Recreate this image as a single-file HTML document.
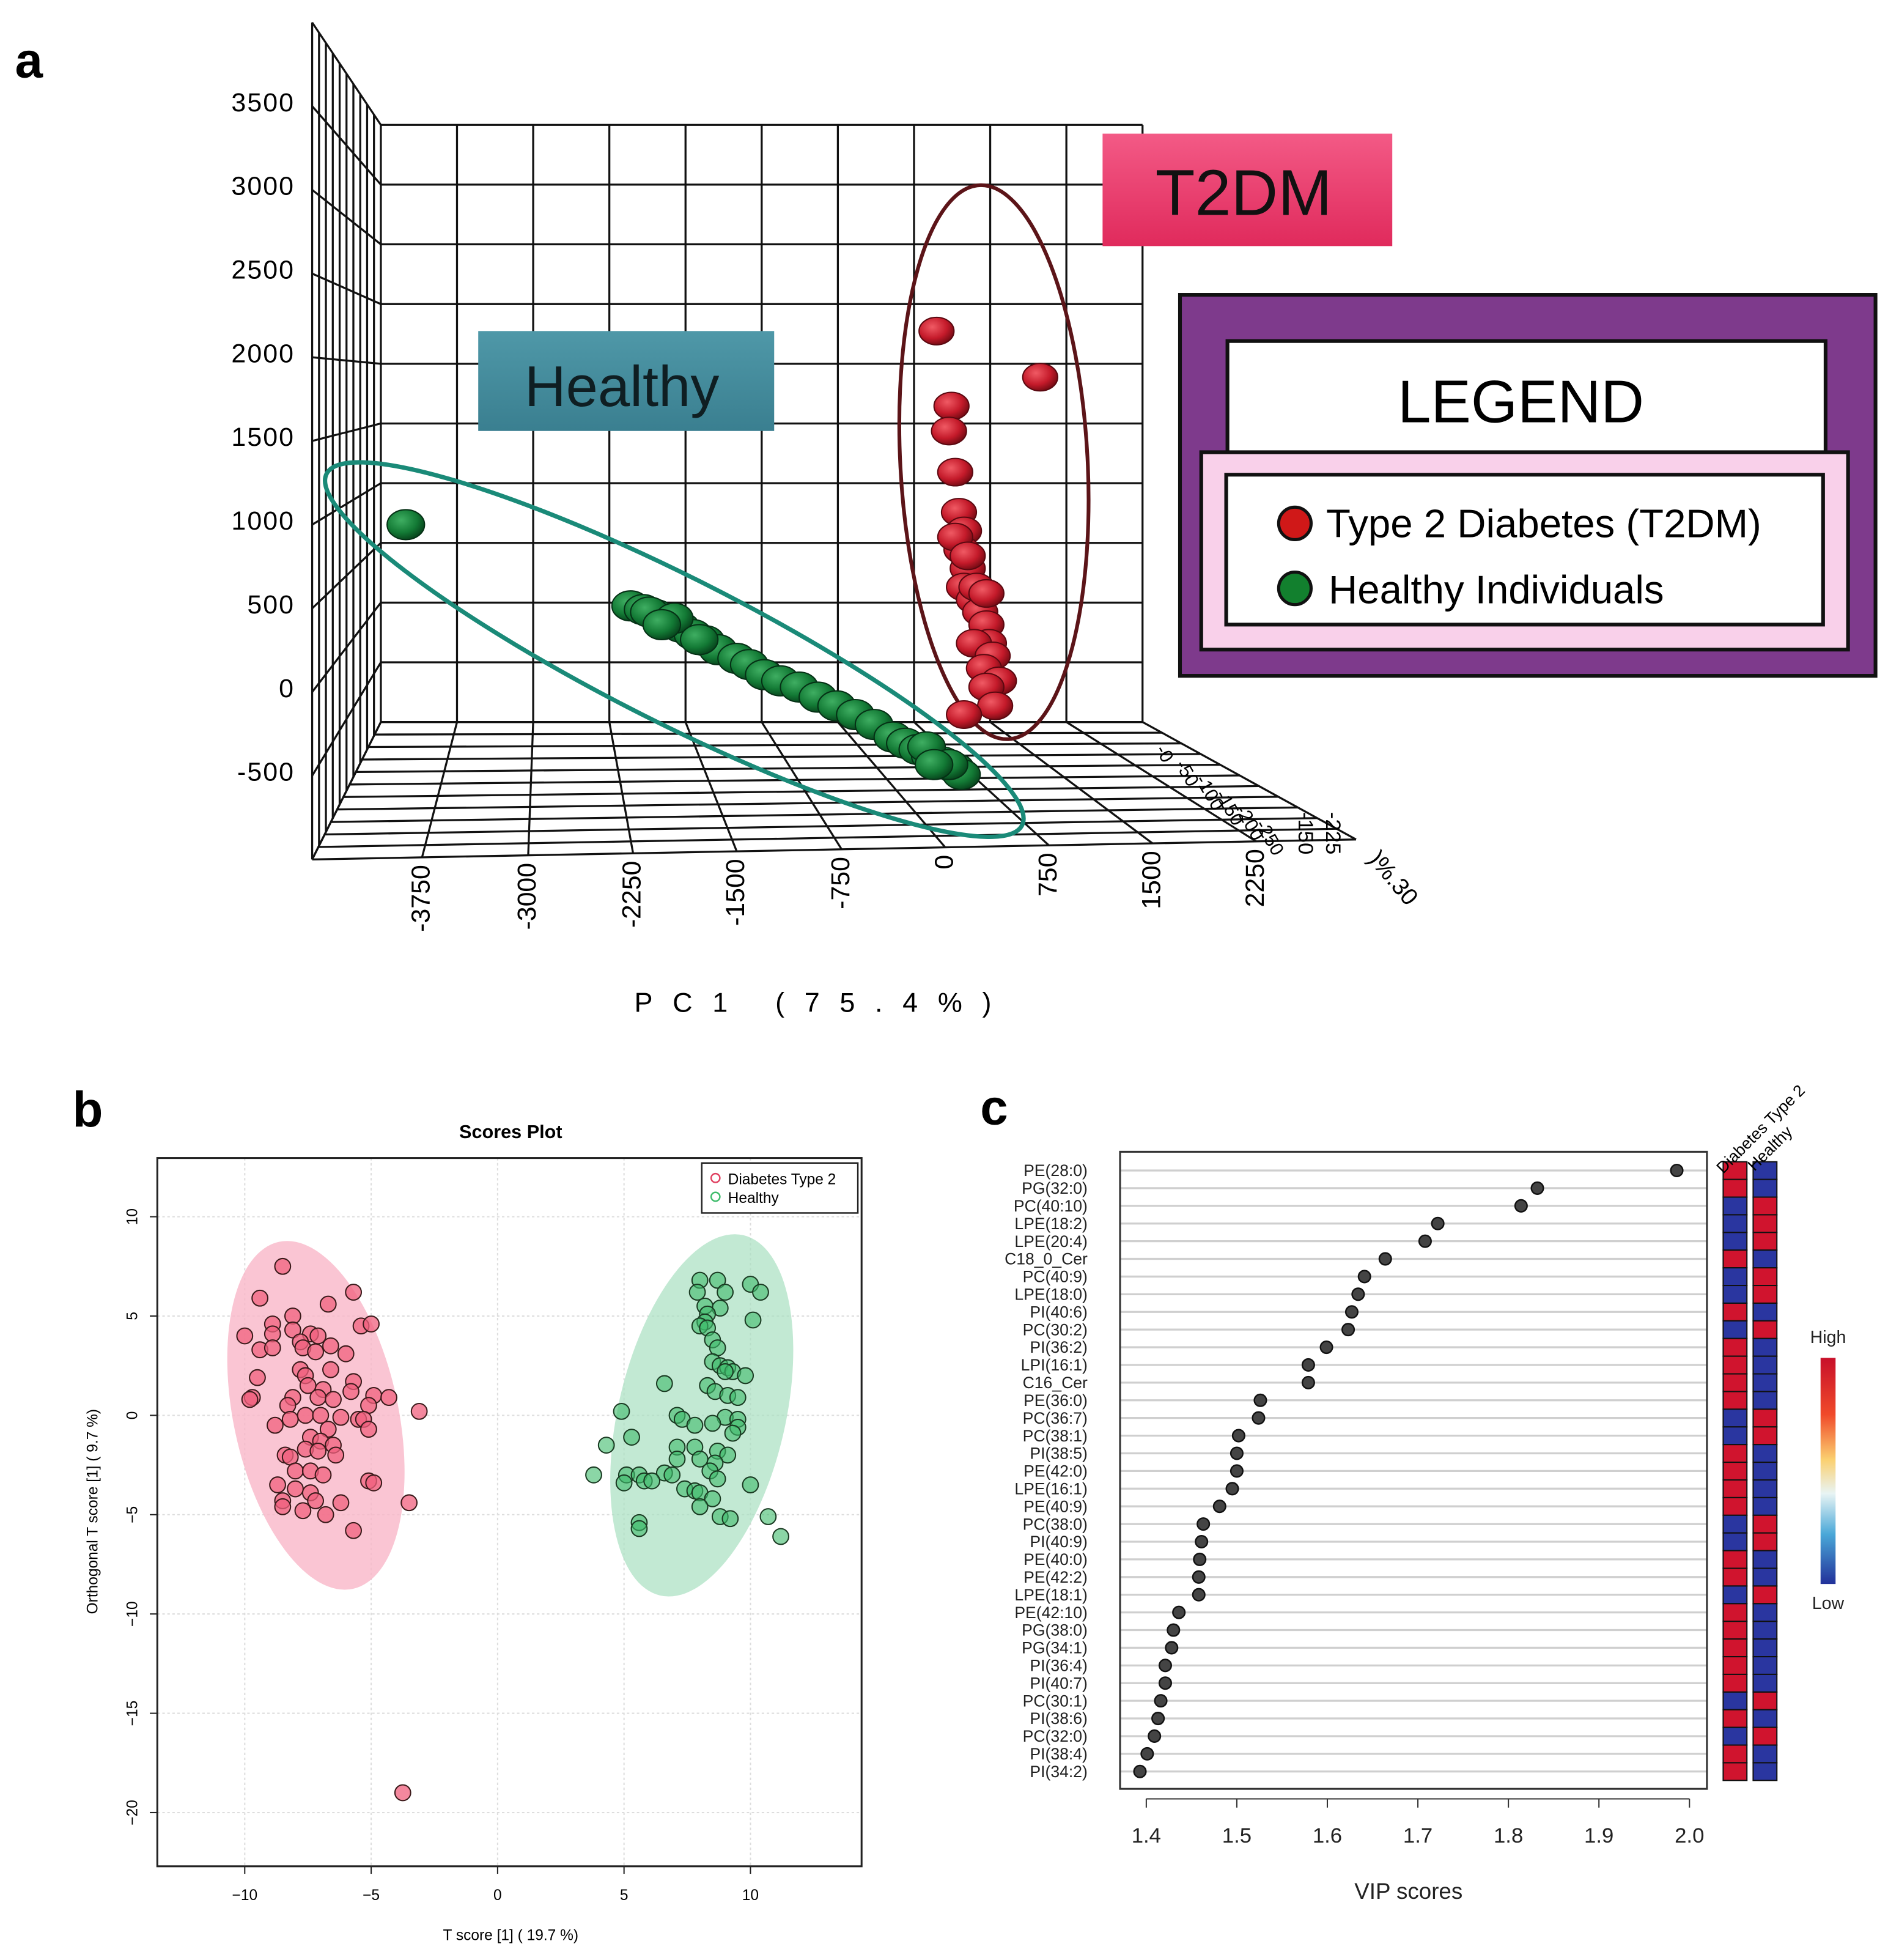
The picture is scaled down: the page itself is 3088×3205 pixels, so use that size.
<!DOCTYPE html>
<html><head><meta charset="utf-8"><style>
html,body{margin:0;padding:0;background:#fff;}
svg{display:block;}
text{font-family:"Liberation Sans",sans-serif;}
</style></head>
<body>
<svg id="fig" xmlns="http://www.w3.org/2000/svg" width="3088" height="3205" viewBox="0 0 1512 1569" preserveAspectRatio="none">
<defs>
<radialGradient id="gG" cx="0.38" cy="0.35" r="0.7"><stop offset="0" stop-color="#3fae62"/><stop offset="0.6" stop-color="#137a35"/><stop offset="1" stop-color="#06401a"/></radialGradient>
<radialGradient id="gR" cx="0.38" cy="0.35" r="0.7"><stop offset="0" stop-color="#f05a64"/><stop offset="0.6" stop-color="#c41a2a"/><stop offset="1" stop-color="#6e0a12"/></radialGradient>
<linearGradient id="tealG" x1="0" y1="0" x2="0" y2="1"><stop offset="0" stop-color="#4f98a8"/><stop offset="1" stop-color="#3a7f90"/></linearGradient>
<linearGradient id="pinkG" x1="0" y1="0" x2="0" y2="1"><stop offset="0" stop-color="#f35a86"/><stop offset="1" stop-color="#e02a5c"/></linearGradient>
<linearGradient id="cbar" x1="0" y1="0" x2="0" y2="1"><stop offset="0" stop-color="#c8102a"/><stop offset="0.25" stop-color="#f04a2a"/><stop offset="0.45" stop-color="#fbd070"/><stop offset="0.6" stop-color="#e8f4f4"/><stop offset="0.78" stop-color="#4aa8d8"/><stop offset="1" stop-color="#22319a"/></linearGradient>
</defs>
<g id="panelA"></g>
<g id="panelB"></g>
<g id="panelC"></g>
</svg>
<script>
// ---------- Panel A data (PC1, PC2 value) ----------
const aYTicks = [3500,3000,2500,2000,1500,1000,500,0,-500];
const aXTicks = ["-3750","-3000","-2250","-1500","-750","0","750","1500","2250"];
const aGreenPC1 = [-3919,-2297,-2207,-2117,-2027,-1937,-1847,-1757,-1667,-1532,-1441,-1333,-1216,-1081,-946,-811,-676,-541,-405,-315,-225,-135,-45,45,90,-2162,-1982,-2072,-1802,-162,0,-108];
const aGreenVal = [968,484,462,432,395,357,313,276,223,171,134,74,37,0,-60,-112,-164,-223,-298,-335,-372,-410,-447,-484,-521,447,410,372,283,-357,-462,-462];
const aRedPC1 = [-90,658,18,0,45,72,108,90,135,108,180,225,270,288,180,315,252,360,270,333,108,45,135,198,270];
const aRedVal = [2122,1847,1675,1526,1281,1042,931,819,707,596,521,447,372,261,261,186,112,37,0,-112,-164,894,782,596,558];
// ---------- Panel B data ----------
const bXTicks = [-10,-5,0,5,10];
const bYTicks = [10,5,0,-5,-10,-15,-20];
const bRedX = [-8.5,-9.4,-5.7,-6.7,-8.9,-8.1,-10,-8.9,-9.4,-8.9,-8.1,-7.4,-7.1,-7.8,-7.7,-6.6,-6.0,-7.2,-5.4,-5.0,-6.6,-7.8,-7.6,-9.5,-5.7,-7.5,-6.9,-5.8,-9.7,-9.8,-8.1,-7.1,-4.9,-4.3,-6.5,-5.1,-3.1,-8.3,-7.6,-7.0,-6.2,-5.5,-5.3,-8.2,-8.8,-5.1,-6.7,-7.4,-7.0,-6.5,-7.6,-7.1,-8.4,-6.4,-8.2,-8.0,-7.4,-6.9,-8.7,-5.1,-4.9,-8.0,-7.4,-7.2,-8.5,-8.5,-6.2,-3.5,-7.7,-6.8,-5.7,-3.75];
const bRedY = [7.5,5.9,6.2,5.6,4.6,5.0,4.0,4.1,3.3,3.4,4.3,4.1,4.0,3.7,3.4,3.5,3.1,3.2,4.5,4.6,2.3,2.3,2.0,1.9,1.7,1.5,1.3,1.2,0.9,0.8,0.9,0.9,1.0,0.9,0.8,0.5,0.2,0.5,0.0,0.0,-0.1,-0.2,-0.2,-0.2,-0.5,-0.7,-0.7,-1.1,-1.3,-1.5,-1.7,-1.8,-2.0,-2.0,-2.1,-2.8,-2.8,-3.0,-3.5,-3.3,-3.4,-3.7,-3.9,-4.3,-4.3,-4.6,-4.4,-4.4,-4.8,-5.0,-5.8,-19];
const bGreenX = [8.0,8.7,10.0,10.4,7.9,9.0,8.2,8.8,8.3,8.2,10.1,8.0,8.3,8.5,8.7,8.5,8.8,9.1,9.3,9.0,9.8,6.6,8.3,8.6,9.1,9.5,4.9,7.1,7.3,9.0,9.5,7.8,8.5,9.5,9.3,5.3,4.3,7.1,7.8,8.7,9.1,7.1,8.0,8.6,8.4,6.6,6.9,3.8,5.1,5.6,5.8,6.1,5.0,8.7,10.0,7.4,7.8,8.0,8.5,8.0,5.6,5.6,8.8,9.2,10.7,11.2];
const bGreenY = [6.8,6.8,6.6,6.2,6.2,6.2,5.5,5.4,5.1,4.7,4.8,4.5,4.4,3.8,3.4,2.7,2.5,2.4,2.2,2.2,2.0,1.6,1.5,1.2,1.0,0.9,0.2,0.0,-0.2,-0.1,-0.2,-0.5,-0.4,-0.6,-0.9,-1.1,-1.5,-1.6,-1.6,-1.8,-2.0,-2.2,-2.2,-2.4,-2.8,-2.9,-3.0,-3.0,-3.0,-3.0,-3.3,-3.3,-3.4,-3.2,-3.5,-3.7,-3.8,-3.9,-4.2,-4.6,-5.4,-5.7,-5.1,-5.2,-5.1,-6.1];
// ---------- Panel C data ----------
const cNames = ["PE(28:0)","PG(32:0)","PC(40:10)","LPE(18:2)","LPE(20:4)","C18_0_Cer","PC(40:9)","LPE(18:0)","PI(40:6)","PC(30:2)","PI(36:2)","LPI(16:1)","C16_Cer","PE(36:0)","PC(36:7)","PC(38:1)","PI(38:5)","PE(42:0)","LPE(16:1)","PE(40:9)","PC(38:0)","PI(40:9)","PE(40:0)","PE(42:2)","LPE(18:1)","PE(42:10)","PG(38:0)","PG(34:1)","PI(36:4)","PI(40:7)","PC(30:1)","PI(38:6)","PC(32:0)","PI(38:4)","PI(34:2)"];
const cVip = [1.986,1.832,1.814,1.722,1.708,1.664,1.641,1.634,1.627,1.623,1.599,1.579,1.579,1.526,1.524,1.502,1.500,1.500,1.495,1.481,1.463,1.461,1.459,1.458,1.458,1.436,1.430,1.428,1.421,1.421,1.416,1.413,1.409,1.401,1.393];
const cDiabHigh = [1,1,0,0,0,1,0,0,1,0,1,1,1,1,0,0,1,1,1,1,0,0,1,1,0,1,1,1,1,1,0,1,0,1,1];
const cXTicks = [1.4,1.5,1.6,1.7,1.8,1.9,2.0];

const NS="http://www.w3.org/2000/svg";
function mk(tag,attrs,parent,txt){const e=document.createElementNS(NS,tag);for(const k in attrs)e.setAttribute(k,attrs[k]);if(txt!==undefined)e.textContent=txt;parent.appendChild(e);return e;}

// ================= PANEL A =================
const A=document.getElementById('panelA');
let t=mk('text',{x:12,y:62,'font-size':40,'font-weight':'bold'},A,'a');


const bwL=305,bwR=915,bwT=100,bwB=578, fL=250,fT=18,fB=688;
const grid=mk('g',{stroke:'#111','stroke-width':1.6,fill:'none'},A);


const bvx=[];for(let i=0;i<=10;i++)bvx.push(bwL+(bwR-bwL)*i/10);
bvx.forEach(x=>mk('line',{x1:x,y1:bwT,x2:x,y2:bwB},grid));
const bhy=[];for(let i=0;i<=10;i++)bhy.push(bwT+(bwB-bwT)*i/10);
bhy.forEach(y=>mk('line',{x1:bwL,y1:y,x2:bwR,y2:y},grid));
mk('line',{x1:fL,y1:fT,x2:fL,y2:fB},grid);
bhy.forEach(y=>{const fy=fT+(y-bwT)/(bwB-bwT)*(fB-fT);mk('line',{x1:fL,y1:fy,x2:bwL,y2:y},grid);});
for(let i=1;i<10;i++){const x=fL+(bwL-fL)*i/10;const yt=fT+(bwT-fT)*i/10,yb=fB+(bwB-fB)*i/10;mk('line',{x1:x,y1:yt,x2:x,y2:yb},grid);}
const frontX=[fL,338,423,507,590,674,757,840,923,1006,1086];
const frontY=x=>688-(x-250)/(1086-250)*16;
for(let i=0;i<=10;i++)mk('line',{x1:bvx[i],y1:bwB,x2:frontX[i],y2:frontY(frontX[i])},grid);
for(let j=0;j<=11;j++){const f=j/11;const xl=bwL+(fL-bwL)*f,yl=bwB+(fB-bwB)*f;const xr=bwR+(1086-bwR)*f,yr=bwB+(672-bwB)*f;mk('line',{x1:xl,y1:yl,x2:xr,y2:yr},grid);}
aYTicks.forEach((v,i)=>{const e=mk('text',{x:236,y:89+i*67,'font-size':21,'text-anchor':'end','letter-spacing':'1'},A,String(v));

});
aXTicks.forEach((v,i)=>{const x=frontX[i+1]+6;const y=frontY(frontX[i+1])+6;const e=mk('text',{x:0,y:0,'font-size':21,'text-anchor':'end',transform:`translate(${x},${y}) rotate(-90)`},A,v);

});
["-150","-225"].forEach((v,i)=>{const e=mk('text',{x:0,y:0,'font-size':17,transform:`translate(${1040+i*22},${650}) rotate(90)`},A,v);

});
t=mk('text',{x:0,y:0,'font-size':19,transform:'translate(1095,688) rotate(50)'},A,')%.30');


for(let i=0;i<6;i++){const e=mk('text',{x:0,y:0,'font-size':15,transform:`translate(${925+i*16},${600+i*12}) rotate(60)`},A,'-'+(i*50));

}
t=mk('text',{x:508,y:810,'font-size':22,'letter-spacing':'16'},A,'PC1 (75.4%)');


t=mk('ellipse',{cx:540,cy:520,rx:312,ry:58,fill:'none',stroke:'#1a8a78','stroke-width':3.5,transform:'rotate(26.8 540 520)'},A);


t=mk('ellipse',{cx:796,cy:370,rx:75,ry:222,fill:'none',stroke:'#5c1418','stroke-width':3,transform:'rotate(-3 796 370)'},A);


const ax=v=>760+v*0.111, ay=v=>550-v*0.1343;
aGreenPC1.forEach((v,i)=>{const c=mk('ellipse',{cx:ax(v),cy:ay(aGreenVal[i]),rx:15,ry:12,fill:'url(#gG)',stroke:'#053015','stroke-width':1},A);

});
aRedPC1.forEach((v,i)=>{const c=mk('ellipse',{cx:ax(v),cy:ay(aRedVal[i]),rx:14,ry:11,fill:'url(#gR)',stroke:'#5a0810','stroke-width':1},A);

});
let g=mk('g',{},A);


mk('rect',{x:383,y:265,width:237,height:80,fill:'url(#tealG)'},g);
mk('text',{x:498,y:325,'font-size':46,'text-anchor':'middle',fill:'#0f1e22'},g,'Healthy');
g=mk('g',{},A);


mk('rect',{x:883,y:107,width:232,height:90,fill:'url(#pinkG)'},g);
mk('text',{x:996,y:172,'font-size':52,'text-anchor':'middle',fill:'#111'},g,'T2DM');
g=mk('g',{},A);


mk('rect',{x:945,y:236,width:557,height:305,fill:'#7e3a8c',stroke:'#111','stroke-width':3},g);
mk('rect',{x:983,y:273,width:479,height:92,fill:'#fff',stroke:'#111','stroke-width':3},g);
mk('text',{x:1218,y:338,'font-size':48,'text-anchor':'middle'},g,'LEGEND');
mk('rect',{x:962,y:362,width:518,height:158,fill:'#f9d0ea',stroke:'#111','stroke-width':3},g);
mk('rect',{x:982,y:380,width:478,height:120,fill:'#fff',stroke:'#111','stroke-width':3},g);
let le=mk('g',{},g);


mk('circle',{cx:1037,cy:419,r:13,fill:'#d01818',stroke:'#111','stroke-width':2.5},le);
mk('text',{x:1062,y:430,'font-size':32},le,'Type 2 Diabetes (T2DM)');
le=mk('g',{},g);


mk('circle',{cx:1037,cy:471,r:13,fill:'#12802e',stroke:'#111','stroke-width':2.5},le);
mk('text',{x:1064,y:483,'font-size':32},le,'Healthy Individuals');

// ================= PANEL B =================
const B=document.getElementById('panelB');
t=mk('text',{x:58,y:902,'font-size':40,'font-weight':'bold'},B,'b');


t=mk('text',{x:409,y:911,'font-size':15,'font-weight':'bold','text-anchor':'middle'},B,'Scores Plot');


const bx=v=>398.5+v*20.25, by=v=>1133-v*15.9;
bXTicks.forEach(v=>{mk('line',{x1:bx(v),y1:927,x2:bx(v),y2:1494,stroke:'#ddd','stroke-dasharray':'2,2'},B);});
bYTicks.forEach(v=>{mk('line',{x1:126,y1:by(v),x2:690,y2:by(v),stroke:'#ddd','stroke-dasharray':'2,2'},B);});
t=mk('ellipse',{cx:253,cy:1133,rx:66,ry:142,fill:'#f9b7c8',opacity:0.8,transform:'rotate(-12 253 1133)'},B);


t=mk('ellipse',{cx:562,cy:1133,rx:67,ry:148,fill:'#a8e0c0',opacity:0.7,transform:'rotate(13 562 1133)'},B);


bRedX.forEach((v,i)=>{const c=mk('circle',{cx:bx(v),cy:by(bRedY[i]),r:6.3,fill:'#f0607e','fill-opacity':0.75,stroke:'#3a1a1a','stroke-width':1},B);

});
bGreenX.forEach((v,i)=>{const c=mk('circle',{cx:bx(v),cy:by(bGreenY[i]),r:6.3,fill:'#3dbb6a','fill-opacity':0.6,stroke:'#1a3a22','stroke-width':1},B);

});
t=mk('rect',{x:126,y:927,width:564,height:567,fill:'none',stroke:'#222','stroke-width':1.5},B);


bXTicks.forEach(v=>{mk('line',{x1:bx(v),y1:1494,x2:bx(v),y2:1500,stroke:'#222'},B);
const e=mk('text',{x:bx(v),y:1521,'font-size':12,'text-anchor':'middle'},B,v<0?'\u2212'+(-v):String(v));

});
bYTicks.forEach(v=>{mk('line',{x1:120,y1:by(v),x2:126,y2:by(v),stroke:'#222'},B);
const e=mk('text',{x:0,y:0,'font-size':12,'text-anchor':'middle',transform:`translate(110,${by(v)}) rotate(-90)`},B,v<0?'\u2212'+(-v):String(v));

});
t=mk('text',{x:409,y:1553,'font-size':12,'text-anchor':'middle'},B,'T score [1] ( 19.7 %)');


t=mk('text',{x:0,y:0,'font-size':12,'text-anchor':'middle',transform:'translate(78,1210) rotate(-90)'},B,'Orthogonal T score [1] ( 9.7 %)');


g=mk('g',{},B);


mk('rect',{x:562,y:931,width:125,height:40,fill:'#fff',stroke:'#222','stroke-width':1.2},g);
mk('circle',{cx:573,cy:943,r:3.5,fill:'none',stroke:'#e04060','stroke-width':1.2},g);
mk('text',{x:583,y:948,'font-size':12},g,'Diabetes Type 2');
mk('circle',{cx:573,cy:958,r:3.5,fill:'none',stroke:'#3dbb6a','stroke-width':1.2},g);
mk('text',{x:583,y:963,'font-size':12},g,'Healthy');

// ================= PANEL C =================
const C=document.getElementById('panelC');
t=mk('text',{x:785,y:900,'font-size':40,'font-weight':'bold'},C,'c');


const cx=v=>918+(v-1.4)*725, cy=i=>937+i*14.15;
cNames.forEach((n,i)=>{mk('line',{x1:897,y1:cy(i),x2:1367,y2:cy(i),stroke:'#cfcfcf','stroke-width':1.6},C);
const e=mk('text',{x:871,y:cy(i)+4.5,'font-size':13,'text-anchor':'end',fill:'#222'},C,n);

});
cVip.forEach((v,i)=>{const d=mk('circle',{cx:cx(v),cy:cy(i),r:4.8,fill:'#444',stroke:'#111','stroke-width':1.2},C);

});
t=mk('rect',{x:897,y:922,width:470,height:510,fill:'none',stroke:'#333','stroke-width':1.5},C);


mk('line',{x1:cx(1.4),y1:1440,x2:cx(2.0),y2:1440,stroke:'#333'},C);
cXTicks.forEach(v=>{mk('line',{x1:cx(v),y1:1440,x2:cx(v),y2:1447,stroke:'#333'},C);
const e=mk('text',{x:cx(v),y:1475,'font-size':17,'text-anchor':'middle',fill:'#222'},C,v.toFixed(1));

});
t=mk('text',{x:1128,y:1520,'font-size':18,'text-anchor':'middle',fill:'#222'},C,'VIP scores');


cDiabHigh.forEach((h,i)=>{const y=cy(i)-7;
const r1=mk('rect',{x:1380,y:y,width:19,height:14.15,fill:h?'#d0142e':'#2a36a0',stroke:'#111','stroke-width':1},C);


const r2=mk('rect',{x:1404,y:y,width:19,height:14.15,fill:h?'#2a36a0':'#d0142e',stroke:'#111','stroke-width':1},C);

});
t=mk('text',{x:0,y:0,'font-size':13,transform:'translate(1380,940) rotate(-45)'},C,'Diabetes Type 2');


t=mk('text',{x:0,y:0,'font-size':13,transform:'translate(1405,938) rotate(-45)'},C,'Healthy');


t=mk('rect',{x:1458,y:1087,width:12,height:181,fill:'url(#cbar)'},C);


t=mk('text',{x:1464,y:1075,'font-size':14,'text-anchor':'middle',fill:'#222'},C,'High');


t=mk('text',{x:1464,y:1288,'font-size':14,'text-anchor':'middle',fill:'#222'},C,'Low');


</script>
</body></html>
